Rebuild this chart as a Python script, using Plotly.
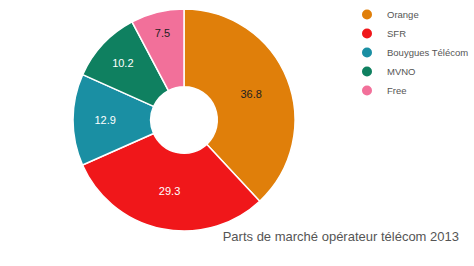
import plotly.graph_objects as go

labels = ["Orange", "SFR", "Bouygues Télécom", "MVNO", "Free"]
values = [36.8, 29.3, 12.9, 10.2, 7.5]
colors = ["#E07F0A", "#F0171A", "#1A8FA3", "#0F8060", "#F2709A"]
text_colors = ["#222222", "#ffffff", "#ffffff", "#ffffff", "#222222"]
title_text = "Parts de marché opérateur télécom 2013"

W, H = 474, 266
cx, cy, r = 184, 120, 111

fig = go.Figure()
fig.add_trace(go.Pie(
    labels=labels,
    values=values,
    hole=0.3,
    sort=False,
    direction="clockwise",
    rotation=0,
    textinfo="value",
    texttemplate="%{value}",
    textposition="inside",
    insidetextorientation="horizontal",
    insidetextfont=dict(color=text_colors, size=11, family="Liberation Sans, Arial, sans-serif"),
    marker=dict(colors=colors, line=dict(color="#ffffff", width=1.5)),
    domain=dict(x=[(cx - r) / W, (cx + r) / W], y=[1 - (cy + r) / H, 1 - (cy - r) / H]),
    showlegend=False,
))

# legend entries with circular markers
for lab, col in zip(labels, colors):
    fig.add_trace(go.Scatter(
        x=[None], y=[None], mode="markers", name=lab,
        marker=dict(symbol="circle", size=10, color=col),
        showlegend=True,
    ))

fig.update_layout(
    width=W, height=H,
    margin=dict(l=0, r=0, t=0, b=0),
    paper_bgcolor="white",
    plot_bgcolor="white",
    xaxis=dict(visible=False),
    yaxis=dict(visible=False),
    font=dict(family="Liberation Sans, Arial, sans-serif", color="#444444"),
    showlegend=True,
    legend=dict(x=1, y=1, xanchor="right", yanchor="top",
                font=dict(size=9.5, color="#555555"), tracegroupgap=0,
                bgcolor="rgba(0,0,0,0)"),
    title=dict(text=title_text, xref="container", yref="container",
               x=459 / W, xanchor="right", y=1 - 236 / H, yanchor="middle",
               font=dict(size=13, color="#555555")),
)

fig.write_html("out.html")
